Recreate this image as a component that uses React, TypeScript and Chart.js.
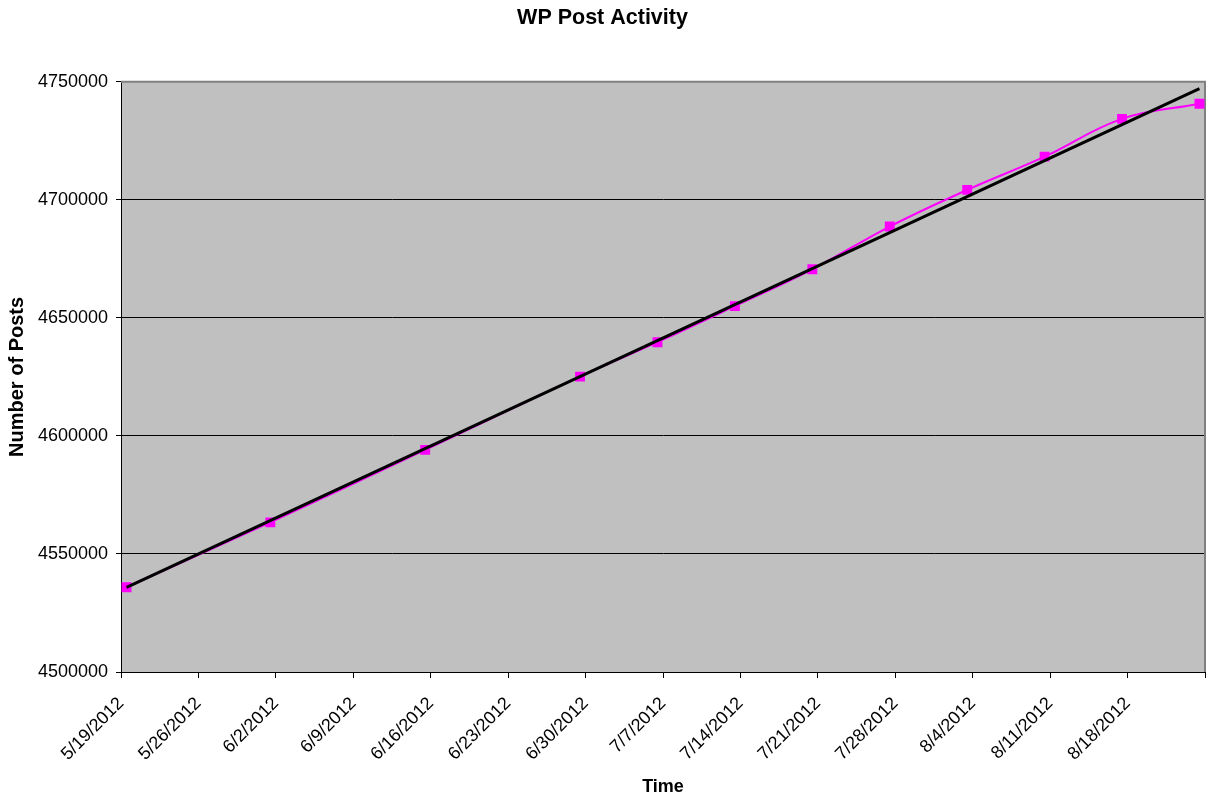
import React, { useEffect, useRef } from 'react';
import { Chart, registerables } from 'chart.js';

Chart.register(...registerables);

// ---- data ----
const axisStart = '2012-05-19T00:00Z';
const sampleTimes = [
  '2012-05-19T12:00Z', '2012-06-01T12:00Z', '2012-06-15T12:00Z', '2012-06-29T12:00Z',
  '2012-07-06T12:00Z', '2012-07-13T12:00Z', '2012-07-20T12:00Z', '2012-07-27T12:00Z',
  '2012-08-03T12:00Z', '2012-08-10T12:00Z', '2012-08-17T12:00Z', '2012-08-24T12:00Z',
];
const postCounts = [
  4535900, 4563400, 4594100, 4625100, 4639700, 4655000,
  4670600, 4688700, 4704200, 4718300, 4734300, 4740700,
];
const xTickLabels = [
  '5/19/2012', '5/26/2012', '6/2/2012', '6/9/2012', '6/16/2012', '6/23/2012', '6/30/2012',
  '7/7/2012', '7/14/2012', '7/21/2012', '7/28/2012', '8/4/2012', '8/11/2012', '8/18/2012', '',
];
const xDaysMax = 98;
const yMin = 4500000;
const yMax = 4750000;
const yStep = 50000;

const FONT = "'Liberation Sans', Arial, sans-serif";

const toDays = (s: string) => (Date.parse(s) - Date.parse(axisStart)) / 86400000;

export default function App() {
  const ref = useRef<HTMLCanvasElement | null>(null);

  useEffect(() => {
    document.body.style.margin = '0';
    const xs = sampleTimes.map(toDays);
    const points = xs.map((x, i) => ({ x, y: postCounts[i] }));

    // linear trendline (least squares)
    const n = xs.length;
    const mx = xs.reduce((a, b) => a + b, 0) / n;
    const my = postCounts.reduce((a, b) => a + b, 0) / n;
    let sxy = 0, sxx = 0;
    for (let i = 0; i < n; i++) {
      sxy += (xs[i] - mx) * (postCounts[i] - my);
      sxx += (xs[i] - mx) * (xs[i] - mx);
    }
    const slope = sxy / sxx;
    const icpt = my - slope * mx;
    const trend = [xs[0], xs[n - 1]].map((x) => ({ x, y: icpt + slope * x }));

    const plotBg = {
      id: 'plotBg',
      beforeDraw(chart: any) {
        const { ctx, chartArea: a } = chart;
        ctx.save();
        ctx.fillStyle = '#ffffff';
        ctx.fillRect(0, 0, chart.width, chart.height);
        ctx.fillStyle = '#C0C0C0';
        ctx.fillRect(a.left, a.top, a.right - a.left, a.bottom - a.top);
        ctx.restore();
      },
      beforeDatasetsDraw(chart: any) {
        const { ctx, chartArea: a } = chart;
        ctx.save();
        ctx.strokeStyle = '#808080';
        ctx.lineWidth = 2;
        ctx.beginPath();
        ctx.moveTo(a.left, a.top);
        ctx.lineTo(a.right, a.top);
        ctx.lineTo(a.right, a.bottom);
        ctx.stroke();
        ctx.restore();
      },
    };

    const chart = new Chart(ref.current as HTMLCanvasElement, {
      type: 'line',
      data: {
        datasets: [
          {
            label: 'Linear trend',
            data: trend,
            borderColor: '#000000',
            borderWidth: 3,
            pointRadius: 0,
            fill: false,
            order: 0,
          },
          {
            label: 'Posts',
            data: points,
            borderColor: '#FF00FF',
            borderWidth: 2,
            pointStyle: 'rect',
            pointRadius: 7,
            pointBackgroundColor: '#FF00FF',
            pointBorderColor: '#FF00FF',
            pointBorderWidth: 0,
            tension: 0.4,
            fill: false,
            order: 1,
          },
        ],
      },
      options: {
        animation: false,
        responsive: false,
        devicePixelRatio: 1,
        layout: { autoPadding: false, padding: { left: 0, right: 3, top: 0, bottom: 0 } },
        plugins: {
          legend: { display: false },
          tooltip: { enabled: false },
          title: {
            display: true,
            text: 'WP Post Activity',
            color: '#000',
            font: { family: FONT, size: 21.5, weight: 'bold' },
            padding: { top: 5, bottom: 51 },
          },
        },
        scales: {
          x: {
            type: 'linear',
            min: 0,
            max: xDaysMax,
            afterFit: (s: any) => { s.height = 128; s.paddingRight = 0; s.paddingLeft = 0; },
            grid: { drawOnChartArea: false, drawTicks: true, tickLength: 6, tickColor: '#000' },
            border: { color: '#000', width: 1 },
            ticks: {
              stepSize: 7,
              autoSkip: false,
              maxRotation: 45,
              minRotation: 45,
              padding: 15,
              color: '#000',
              font: { family: FONT, size: 18 },
              callback: (_v: any, i: number) => xTickLabels[i] ?? '',
            },
            title: {
              display: true,
              text: 'Time',
              color: '#000',
              font: { family: FONT, size: 18, weight: 'bold' },
              padding: { top: 0, bottom: 2 },
            },
          },
          y: {
            min: yMin,
            max: yMax,
            afterFit: (s: any) => { s.width = 121; },
            grid: {
              color: (c: any) => (c.tick && c.tick.value === yMax ? '#808080' : '#000'),
              lineWidth: 1,
              drawTicks: true,
              tickLength: 5,
              tickColor: '#000',
            },
            border: { color: '#000', width: 1 },
            ticks: {
              stepSize: yStep,
              padding: 8,
              color: '#000',
              font: { family: FONT, size: 18 },
              callback: (v: any) => String(v),
            },
            title: {
              display: true,
              text: 'Number of Posts',
              color: '#000',
              font: { family: FONT, size: 20, weight: 'bold' },
              padding: { top: 5, bottom: 0 },
            },
          },
        },
      },
      plugins: [plotBg],
    } as any);

    return () => chart.destroy();
  }, []);

  return (
    <div style={{ width: 1208, height: 800 }}>
      <canvas ref={ref} width={1208} height={800} style={{ display: 'block' }} />
    </div>
  );
}
